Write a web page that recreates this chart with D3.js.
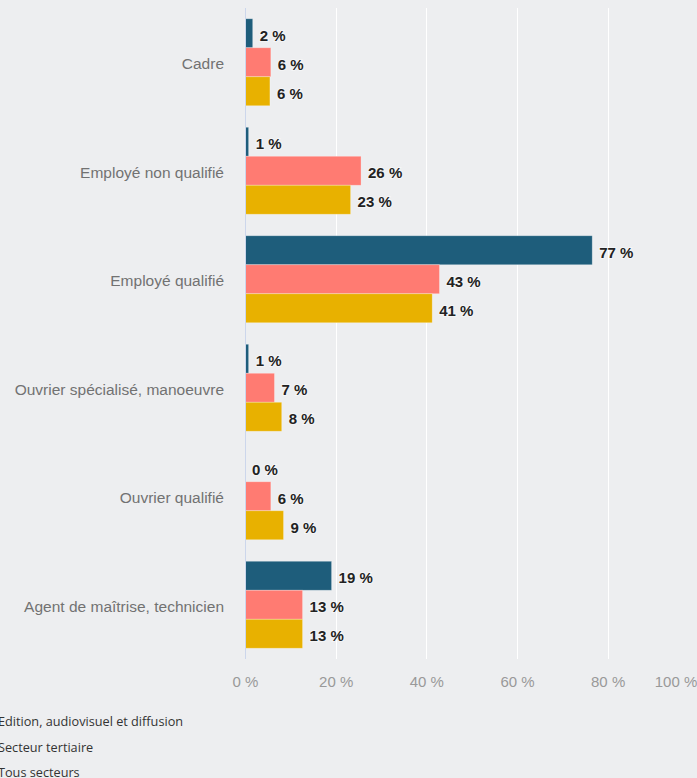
<!DOCTYPE html>
<html><head><meta charset="utf-8">
<script src="https://cdn.jsdelivr.net/npm/d3@7"></script>
<style>
html,body{margin:0;padding:0;background:#edeef0;overflow:hidden;}
svg{display:block;}
.arial{font-family:"Liberation Sans", Arial, Helvetica, sans-serif;}
.legend{font-family:"Open Sans", "Noto Sans", sans-serif;}
</style></head>
<body>
<script>
const categories = ["Cadre","Employé non qualifié","Employé qualifié","Ouvrier spécialisé, manoeuvre","Ouvrier qualifié","Agent de maîtrise, technicien"];
const seriesNames = ["Edition, audiovisuel et diffusion","Secteur tertiaire","Tous secteurs"];
const editionValues = [1.7, 0.8, 76.6, 0.8, 0, 19.1];
const tertiaireValues = [5.7, 25.6, 42.9, 6.5, 5.7, 12.7];
const tousValues = [5.5, 23.3, 41.3, 8.1, 8.5, 12.7];
const seriesColors = ["#1e5d7b", "#ff7b72", "#e8b100"];
const tickValues = [0, 20, 40, 60, 80, 100];

(function () {
const series = [editionValues, tertiaireValues, tousValues];
const W = 697, H = 778;
const svg = d3.select("body").append("svg").attr("width", W).attr("height", H);

const pLeft = 245, pRight = 698.3, pTop = 8, pBottom = 659;
const x = d3.scaleLinear().domain([0, 100]).range([pLeft, pRight]);
const y = d3.scaleBand().domain(categories).range([pTop, pBottom]);
const inner = d3.scaleBand().domain([0,1,2]).range([0, 87]);
const groupOffset = (y.bandwidth() - 87) / 2;

// gridlines
svg.append("g").selectAll("line").data(tickValues.slice(1)).join("line")
  .attr("x1", d => Math.round(x(d)) + 0.5).attr("x2", d => Math.round(x(d)) + 0.5)
  .attr("y1", pTop).attr("y2", pBottom)
  .attr("stroke", "#ffffff").attr("stroke-width", 1);

// bars
const groups = svg.append("g").selectAll("g").data(categories).join("g")
  .attr("transform", c => `translate(0,${y(c) + groupOffset})`);

groups.each(function(c, ci) {
  const g = d3.select(this);
  series.forEach((vals, si) => {
    const v = vals[ci];
    const w = x(v) - x(0);
    if (w > 0) {
      g.append("rect")
        .attr("x", x(0)).attr("y", inner(si))
        .attr("width", w).attr("height", inner.bandwidth())
        .attr("fill", seriesColors[si])
        .attr("stroke", "#ffffff").attr("stroke-opacity", 0.35).attr("stroke-width", 0.8);
    }
    g.append("text")
      .attr("class", "arial")
      .attr("x", x(v) + 7)
      .attr("y", inner(si) + inner.bandwidth() / 2 + 2)
      .attr("dy", "0.36em")
      .attr("font-size", 15).attr("font-weight", "bold")
      .attr("fill", "#222222")
      .attr("stroke", "#ffffff").attr("stroke-width", 2).attr("stroke-opacity", 0.45)
      .attr("paint-order", "stroke")
      .text(Math.round(v) + " %");
  });
});

// axis baseline
svg.append("line")
  .attr("x1", x(0) + 0.5).attr("x2", x(0) + 0.5)
  .attr("y1", pTop).attr("y2", pBottom)
  .attr("stroke", "#ccd6eb").attr("stroke-width", 1);

// category labels
svg.append("g").selectAll("text").data(categories).join("text")
  .attr("class", "arial")
  .attr("x", 224)
  .attr("y", c => y(c) + y.bandwidth() / 2 + 1.5)
  .attr("dy", "0.35em")
  .attr("text-anchor", "end")
  .attr("font-size", 15.5)
  .attr("fill", "#727272")
  .text(c => c);

// x tick labels
svg.append("g").selectAll("text").data(tickValues).join("text")
  .attr("class", "arial")
  .attr("x", d => Math.min(x(d) + 0.5, 676))
  .attr("y", 681.5)
  .attr("dy", "0.35em")
  .attr("text-anchor", "middle")
  .attr("font-size", 15)
  .attr("fill", "#999999")
  .text(d => d + " %");

// legend
svg.append("g").selectAll("text").data(seriesNames).join("text")
  .attr("class", "legend")
  .attr("x", -2)
  .attr("y", (d, i) => 722 + i * 25.5)
  .attr("dy", "0.35em")
  .attr("font-size", 12.7)
  .attr("fill", "#333333")
  .text(d => d);
})();
</script>
</body></html>
